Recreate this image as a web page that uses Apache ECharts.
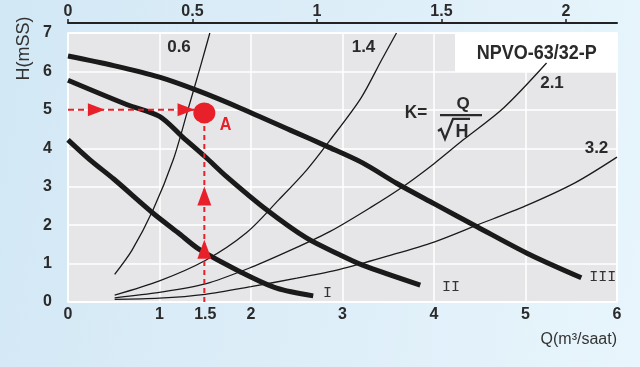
<!DOCTYPE html>
<html><head><meta charset="utf-8">
<script src="https://cdn.jsdelivr.net/npm/echarts@6/dist/echarts.min.js"></script>
<style>
html,body{margin:0;padding:0;}
body{width:640px;height:367px;background:linear-gradient(100deg,#d2e8f5 0%,#dcedf8 45%,#e8f5fc 100%);overflow:hidden;}
#c{width:640px;height:367px;}
</style>
</head><body><div id="c"></div>
<script>
// ---- axis ticks ----
const bottomTicks = [0, 1, 1.5, 2, 3, 4, 5, 6];
const topTicks = [0, 0.5, 1, 1.5, 2];
const topMax = 2.205;          // top scale value at the right edge of the plot
const yMax = 7;

// ---- pump curves (Q m3/h, H mSS) ----
const curveI_Q   = [0, 0.24, 0.5, 0.93, 1.2, 1.44, 1.88, 2.28, 2.68];
const curveI_H   = [4.22, 3.70, 3.2, 2.31, 1.81, 1.36, 0.79, 0.36, 0.16];
const curveII_Q  = [0, 0.64, 1.0, 1.25, 1.5, 1.73, 2.17, 2.61, 2.97, 3.22, 3.85];
const curveII_H  = [5.77, 5.14, 4.83, 4.3, 3.78, 3.27, 2.40, 1.66, 1.23, 0.96, 0.44];
const curveIII_Q = [0, 0.5, 1.0, 1.44, 1.88, 2.46, 2.83, 3.22, 3.59, 4.0, 4.47, 5.05, 5.61];
const curveIII_H = [6.40, 6.15, 5.85, 5.48, 5.05, 4.44, 4.05, 3.62, 3.09, 2.56, 1.96, 1.23, 0.63];

// ---- system curves K = Q / sqrt(H) ----
const k06_Q = [0.51, 0.7, 0.93, 1.15, 1.31, 1.45, 1.55];
const k06_H = [0.72, 1.35, 2.40, 3.70, 5.0, 6.15, 7.0];
const k14_Q = [0.51, 1.0, 1.5, 1.95, 2.3, 2.61, 2.86, 3.2, 3.43, 3.59];
const k14_H = [0.18, 0.55, 1.08, 1.8, 2.65, 3.44, 4.2, 5.3, 6.31, 7.0];
const k21_Q = [0.51, 1.0, 1.5, 2.0, 2.5, 2.86, 3.3, 3.66, 4.0, 4.32, 4.76, 5.23];
const k21_H = [0.11, 0.25, 0.47, 0.9, 1.42, 1.83, 2.45, 3.0, 3.6, 4.22, 5.05, 6.22];
const k32_Q = [0.51, 1.0, 1.5, 2.0, 2.5, 2.97, 3.5, 4.0, 4.47, 5.0, 5.54, 6.0];
const k32_H = [0.07, 0.1, 0.2, 0.4, 0.62, 0.85, 1.2, 1.56, 2.0, 2.5, 3.1, 3.77];

// ---- operating point A ----
const pointA = [1.49, 4.92];
const guideH = [[0, 5.0], [1.49, 5.0]];
const guideV = [[1.49, 0], [1.49, 4.92]];
const arrowsRight = [[0.31, 5.0], [1.29, 5.0]];
const arrowsUp = [[1.49, 2.76], [1.49, 1.37]];

function pairs(q, h) { return q.map((v, i) => [v, h[i]]); }

const FONT = '"Liberation Sans", Arial, Helvetica, sans-serif';
const TXT = '#2a2a2a';
const RED = '#e8202a';

function pumpSeries(q, h) {
  return { type: 'line', xAxisIndex: 0, yAxisIndex: 0, data: pairs(q, h), smooth: 0.3,
    showSymbol: false, silent: true, lineStyle: { color: '#1a1a1a', width: 5, cap: 'butt' }, z: 4 };
}
function sysSeries(q, h) {
  return { type: 'line', xAxisIndex: 0, yAxisIndex: 0, data: pairs(q, h), smooth: 0.3,
    showSymbol: false, silent: true, lineStyle: { color: '#1a1a1a', width: 1.3 }, z: 3 };
}
function txt(x, y, text, font, color, extra) {
  return Object.assign({ type: 'text', x: x, y: y, z: 10,
    style: { text: text, x: 0, y: 0, font: font, fill: color || TXT,
      align: 'center', verticalAlign: 'middle', textAlign: 'center', textVerticalAlign: 'middle' } }, extra || {});
}

const chart = echarts.init(document.getElementById('c'), null, { renderer: 'canvas' });
chart.setOption({
  animation: false,
  backgroundColor: 'transparent',
  grid: { left: 68, right: 23, top: 33, bottom: 65, show: true, backgroundColor: '#e6e6e8', borderColor: '#ffffff', borderWidth: 1.5 },
  xAxis: [
    { type: 'value', position: 'bottom', min: 0, max: 6, interval: 1,
      axisLine: { show: false }, axisTick: { show: false },
      axisLabel: { customValues: bottomTicks, margin: 5, fontFamily: FONT, fontWeight: 'bold', fontSize: 16, color: TXT },
      splitLine: { show: true, lineStyle: { color: '#ffffff', width: 1.5 } } },
    { type: 'value', position: 'top', min: 0, max: topMax, offset: 10,
      axisLine: { show: true, lineStyle: { color: '#222', width: 2 } },
      axisTick: { show: true, customValues: topTicks, length: 4, lineStyle: { color: '#222', width: 1.5 } },
      axisLabel: { customValues: topTicks, margin: 3, fontFamily: FONT, fontWeight: 'bold', fontSize: 16, color: TXT,
        formatter: v => String(v) },
      splitLine: { show: false } }
  ],
  yAxis: [
    { type: 'value', min: 0, max: yMax, interval: 1,
      axisLine: { show: false }, axisTick: { show: false },
      axisLabel: { margin: 16, fontFamily: FONT, fontWeight: 'bold', fontSize: 16, color: TXT, padding: [3, 0, 0, 0] },
      splitLine: { show: true, lineStyle: { color: '#ffffff', width: 1.5 } } }
  ],
  graphic: [
    { type: 'rect', z: 1, shape: { x: 455, y: 33, width: 162, height: 39 }, style: { fill: '#ffffff' } },
    txt(536.7, 53, 'NPVO-63/32-P', 'bold 20px ' + FONT, TXT, { scaleX: 0.9 }),
    txt(24, 48.5, 'H(mSS)', '18px ' + FONT, '#333', { rotation: Math.PI / 2 }),
    { type: 'text', z: 10, x: 617, y: 340, style: { text: 'Q(m³/saat)', x: 0, y: 0, font: '16px ' + FONT, fill: '#333',
      align: 'right', verticalAlign: 'middle', textAlign: 'right', textVerticalAlign: 'middle' } },
    txt(179, 47, '0.6', 'bold 17px ' + FONT),
    txt(363.5, 47, '1.4', 'bold 17px ' + FONT),
    txt(552, 83.5, '2.1', 'bold 17px ' + FONT),
    txt(596.5, 148.5, '3.2', 'bold 17px ' + FONT),
    txt(327.5, 293, 'I', '15px "Liberation Mono", "Courier New", monospace', '#333'),
    txt(451, 287, 'II', '15px "Liberation Mono", "Courier New", monospace', '#333'),
    txt(602.7, 277.5, 'III', '15px "Liberation Mono", "Courier New", monospace', '#333'),
    txt(225.5, 125, 'A', 'bold 19px ' + FONT, RED, { scaleX: 0.85 }),
    txt(416, 113, 'K=', 'bold 19px ' + FONT, TXT, { scaleX: 0.9 }),
    txt(463, 104.5, 'Q', 'bold 17px ' + FONT),
    { type: 'line', z: 10, shape: { x1: 440, y1: 115.2, x2: 482, y2: 115.2 }, style: { stroke: TXT, lineWidth: 2.2 } },
    { type: 'polyline', z: 10, shape: { points: [[438, 131], [441, 129], [445, 139], [453, 118.8], [470, 118.8]] },
      style: { stroke: TXT, lineWidth: 2.2, fill: null } },
    txt(462, 132, 'H', 'bold 18px ' + FONT)
  ],
  series: [
    sysSeries(k06_Q, k06_H),
    sysSeries(k14_Q, k14_H),
    sysSeries(k21_Q, k21_H),
    sysSeries(k32_Q, k32_H),
    pumpSeries(curveI_Q, curveI_H),
    pumpSeries(curveII_Q, curveII_H),
    pumpSeries(curveIII_Q, curveIII_H),
    { type: 'line', data: guideH, showSymbol: false, silent: true, z: 5,
      lineStyle: { color: RED, width: 2, type: [6, 4] } },
    { type: 'line', data: guideV, showSymbol: false, silent: true, z: 5,
      lineStyle: { color: RED, width: 2, type: [5, 4] } },
    { type: 'scatter', data: arrowsRight, symbol: 'triangle', symbolRotate: -90, symbolSize: [13, 17], silent: true, z: 6,
      itemStyle: { color: RED, opacity: 1 } },
    { type: 'scatter', data: arrowsUp, symbol: 'triangle', symbolSize: [14, 19], silent: true, z: 6,
      itemStyle: { color: RED, opacity: 1 } },
    { type: 'scatter', data: [pointA], symbol: 'circle', symbolSize: [22, 21], silent: true, z: 7,
      itemStyle: { color: RED, opacity: 1 } }
  ]
});
</script>
</body></html>
